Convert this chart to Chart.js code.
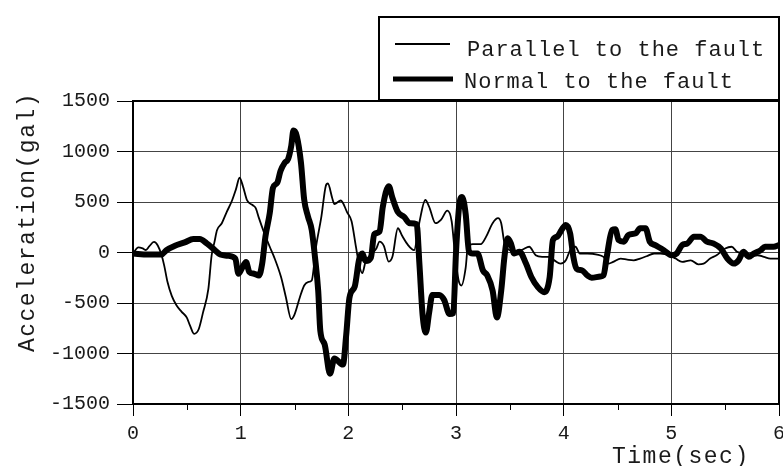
<!DOCTYPE html>
<html>
<head>
<meta charset="utf-8">
<script src="https://cdn.jsdelivr.net/npm/chart.js@4/dist/chart.umd.min.js"></script>
<style>
  html, body { margin: 0; padding: 0; background: #fff; }
  #wrap { width: 783px; height: 466px; }
</style>
</head>
<body>
<div id="wrap"><canvas id="accelChart" width="783" height="466"></canvas></div>
<script>
// time (sec) / acceleration (gal)
const parallelTime = [0, 0.05, 0.09, 0.12, 0.15, 0.195, 0.23, 0.265, 0.29, 0.32, 0.36, 0.405, 0.45, 0.5, 0.53, 0.567, 0.61, 0.65, 0.7, 0.73,
  0.757, 0.78, 0.825, 0.87, 0.92, 0.956, 0.99, 1.02, 1.06, 1.11, 1.14, 1.17, 1.22, 1.27, 1.31, 1.375, 1.42, 1.47, 1.5, 1.55,
  1.59, 1.625, 1.66, 1.7, 1.75, 1.79, 1.81, 1.85, 1.87, 1.93, 1.99, 2.03, 2.07, 2.1, 2.13, 2.16, 2.21, 2.26, 2.29, 2.33,
  2.375, 2.41, 2.46, 2.5, 2.55, 2.61, 2.66, 2.715, 2.75, 2.81, 2.86, 2.92, 2.96, 2.99, 3.025, 3.05, 3.09, 3.11, 3.155, 3.23,
  3.28, 3.34, 3.39, 3.42, 3.45, 3.5, 3.56, 3.62, 3.68, 3.74, 3.8, 3.87, 3.92, 3.97, 4.02, 4.06, 4.11, 4.15, 4.22, 4.31,
  4.37, 4.42, 4.46, 4.53, 4.59, 4.65, 4.71, 4.77, 4.84, 4.9, 4.98, 5.04, 5.1, 5.18, 5.25, 5.3, 5.36, 5.42, 5.5, 5.56,
  5.61, 5.67, 5.73, 5.8, 5.86, 5.92, 6.0];
const parallelAccel = [-10, 50, 40, 25, 60, 105, 70, -25, -130, -290, -430, -525, -585, -645, -725, -805, -760, -595, -360, -30,
  105, 220, 290, 400, 515, 625, 740, 660, 515, 470, 440, 340, 190, 57, -43, -243, -443, -660, -615, -443,
  -327, -293, -277, 57, 357, 657, 683, 540, 480, 515, 395, 310, 60, -120, -205, -90, -20, 40, 107, 65,
  -90, -40, 240, 165, 80, 23, 300, 520, 455, 290, 323, 415, 307, -10, -280, -327, -150, 57, 83, 83,
  157, 290, 340, 290, 90, 23, 7, 30, 57, -27, -43, -43, -83, -110, -77, 23, 57, -10, -10, -20,
  -43, -110, -93, -60, -70, -77, -60, -37, -10, -10, -27, -60, -93, -77, -117, -110, -60, -27, 40, 57,
  7, -10, -43, -27, -43, -60, -60];

const normalTime = [0, 0.14, 0.265, 0.31, 0.39, 0.48, 0.56, 0.62, 0.685, 0.75, 0.81, 0.89, 0.95, 0.98, 1.01, 1.05, 1.08, 1.125, 1.17, 1.2,
  1.23, 1.27, 1.3, 1.34, 1.37, 1.41, 1.44, 1.47, 1.49, 1.52, 1.56, 1.59, 1.625, 1.66, 1.69, 1.72, 1.74, 1.78, 1.83, 1.87,
  1.95, 1.98, 2.01, 2.06, 2.1, 2.13, 2.16, 2.21, 2.24, 2.29, 2.32, 2.375, 2.41, 2.46, 2.52, 2.57, 2.635, 2.66, 2.69, 2.72,
  2.75, 2.78, 2.845, 2.89, 2.94, 2.975, 3.0, 3.03, 3.056, 3.09, 3.12, 3.155, 3.2, 3.25, 3.29, 3.34, 3.38, 3.42, 3.45, 3.48,
  3.51, 3.54, 3.59, 3.65, 3.7, 3.76, 3.82, 3.87, 3.9, 3.94, 3.98, 4.02, 4.06, 4.09, 4.12, 4.17, 4.22, 4.26, 4.34, 4.37,
  4.4, 4.45, 4.48, 4.51, 4.56, 4.6, 4.67, 4.71, 4.76, 4.8, 4.85, 4.93, 5.0, 5.05, 5.1, 5.15, 5.21, 5.27, 5.33, 5.39,
  5.46, 5.52, 5.58, 5.625, 5.67, 5.72, 5.765, 5.83, 5.87, 5.95, 6.0];
const normalAccel = [-10, -20, -20, 23, 67, 100, 133, 133, 90, 33, -20, -33, -60, -210, -160, -93, -193, -210, -227, -110,
  157, 390, 640, 690, 807, 890, 923, 1057, 1207, 1157, 890, 523, 357, 223, -43, -377, -777, -910, -1200, -1050,
  -1110, -820, -450, -335, -70, -10, -85, -50, 180, 207, 450, 657, 540, 400, 350, 290, 280, -110, -620, -793,
  -600, -420, -420, -470, -610, -600, 0, 465, 550, 380, 15, -10, -10, -177, -227, -377, -643, -377, -43, 140,
  90, -10, 7, -110, -243, -343, -393, -243, 123, 157, 223, 273, 190, -43, -160, -177, -227, -250, -237, -227,
  -43, 223, 230, 123, 107, 173, 190, 240, 240, 107, 73, 23, -27, -10, 73, 90, 157, 157, 107, 90,
  40, -60, -110, -77, 7, -43, -10, 23, 57, 57, 73];

const yTicks = [-1500, -1000, -500, 0, 500, 1000, 1500];
const xTicks = [0, 1, 2, 3, 4, 5, 6];
const xMinorTicks = [0.5, 1.5, 2.5, 3.5, 4.5, 5.5];

const seriesNames = ['Parallel to the fault', 'Normal to the fault'];
const FONT = '"Liberation Mono", "DejaVu Sans Mono", monospace';
const TEXT = '#1a1a1a';

function toPoints(ts, vs) {
    return ts.map((t, i) => ({ x: t, y: vs[i] }));
}

// frame, minor ticks, axis titles and the boxed legend
const decorPlugin = {
    id: 'decor',
    beforeDatasetsDraw(chart) {
        const { ctx, chartArea: a } = chart;
        ctx.save();
        ctx.strokeStyle = '#000';
        ctx.lineWidth = 2;
        ctx.strokeRect(a.left, a.top, a.right - a.left, a.bottom - a.top);
        ctx.restore();
    },
    afterDraw(chart) {
        const { ctx, chartArea: a } = chart;
        const xs = chart.scales.x;
        ctx.save();
        // minor ticks
        ctx.strokeStyle = '#000';
        ctx.lineWidth = 1;
        xMinorTicks.forEach(v => {
            const px = Math.round(xs.getPixelForValue(v)) + 0.5;
            ctx.beginPath();
            ctx.moveTo(px, a.bottom);
            ctx.lineTo(px, a.bottom + 6);
            ctx.stroke();
        });

        ctx.fillStyle = TEXT;
        if ('letterSpacing' in ctx) ctx.letterSpacing = '1.5px';
        ctx.font = '23px ' + FONT;
        ctx.textAlign = 'left';
        ctx.textBaseline = 'alphabetic';
        ctx.fillText('Time(sec)', 612, 463);

        ctx.save();
        ctx.translate(34, 222);
        ctx.rotate(-Math.PI / 2);
        ctx.textAlign = 'center';
        ctx.fillText('Acceleration(gal)', 0, 0);
        ctx.restore();

        // legend
        ctx.fillStyle = '#fff';
        ctx.fillRect(379, 17, 400, 83);
        ctx.strokeStyle = '#000';
        ctx.lineWidth = 2;
        ctx.strokeRect(379, 17, 400, 83);

        ctx.lineWidth = 2;
        ctx.beginPath();
        ctx.moveTo(395, 44);
        ctx.lineTo(450, 44);
        ctx.stroke();
        ctx.lineWidth = 5;
        ctx.beginPath();
        ctx.moveTo(393, 79);
        ctx.lineTo(453, 79);
        ctx.stroke();

        if ('letterSpacing' in ctx) ctx.letterSpacing = '1px';
        ctx.font = '22px ' + FONT;
        ctx.fillStyle = TEXT;
        ctx.fillText(seriesNames[0], 467, 56);
        ctx.fillText(seriesNames[1], 464, 88);
        ctx.restore();
    }
};

new Chart(document.getElementById('accelChart'), {
    type: 'line',
    data: {
        datasets: [
            {
                label: seriesNames[0],
                data: toPoints(parallelTime, parallelAccel),
                borderColor: '#000',
                borderWidth: 1.8,
                pointRadius: 0,
                cubicInterpolationMode: 'monotone',
                fill: false
            },
            {
                label: seriesNames[1],
                data: toPoints(normalTime, normalAccel),
                borderColor: '#000',
                borderWidth: 6,
                pointRadius: 0,
                cubicInterpolationMode: 'monotone',
                fill: false
            }
        ]
    },
    options: {
        responsive: false,
        animation: false,
        events: [],
        layout: { padding: { top: 101, right: 4, left: 0, bottom: 0 } },
        plugins: {
            legend: { display: false },
            tooltip: { enabled: false },
            title: { display: false }
        },
        scales: {
            x: {
                type: 'linear',
                min: 0,
                max: 6,
                afterBuildTicks: scale => { scale.ticks = xTicks.map(v => ({ value: v })); },
                afterFit: scale => {
                    scale.height = 62;
                    scale.paddingLeft = 0;
                    scale.paddingRight = 0;
                },
                grid: {
                    color: '#444',
                    lineWidth: 1,
                    tickLength: 12,
                    tickColor: '#000'
                },
                border: { display: true, color: '#000', width: 2 },
                ticks: {
                    font: { family: FONT, size: 20 },
                    color: TEXT,
                    padding: 6,
                    maxRotation: 0,
                    autoSkip: false,
                    callback: v => String(v)
                }
            },
            y: {
                min: -1500,
                max: 1500,
                afterBuildTicks: scale => { scale.ticks = yTicks.map(v => ({ value: v })); },
                afterFit: scale => {
                    scale.width = 133;
                    scale.paddingTop = 0;
                    scale.paddingBottom = 0;
                },
                grid: {
                    color: '#444',
                    lineWidth: 1,
                    tickLength: 16,
                    tickColor: '#000'
                },
                border: { display: true, color: '#000', width: 2 },
                ticks: {
                    font: { family: FONT, size: 20 },
                    color: TEXT,
                    padding: 7,
                    autoSkip: false,
                    callback: v => String(v)
                }
            }
        }
    },
    plugins: [decorPlugin]
});
</script>
</body>
</html>
